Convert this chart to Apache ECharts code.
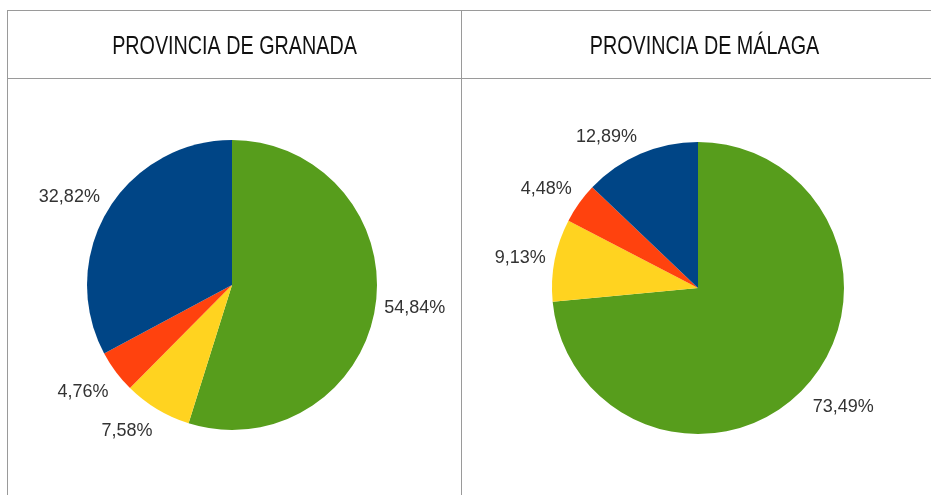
<!DOCTYPE html>
<html>
<head>
<meta charset="utf-8">
<script src="https://cdn.jsdelivr.net/npm/echarts@6/dist/echarts.min.js"></script>
<style>
  html, body { margin: 0; padding: 0; background: #fff; }
  #chart { width: 931px; height: 495px; }
</style>
</head>
<body>
<div id="chart"></div>
<script>
// categories in drawing order (clockwise from 12 o'clock)
const categories = ["A", "B", "C", "D"];
const colors = ["#579d1c", "#ffd320", "#ff420e", "#004586"];
const granada = [54.84, 7.58, 4.76, 32.82];
const malaga = [73.49, 9.13, 4.48, 12.89];
const titles = ["PROVINCIA DE GRANADA", "PROVINCIA DE MÁLAGA"];

const myChart = echarts.init(document.getElementById("chart"));

function toData(values) {
  return values.map((v, i) => ({ name: categories[i], value: v }));
}

// vertical cosine of a slice's middle angle (down is positive)
function midDown(values, idx) {
  const total = values.reduce((a, b) => a + b, 0);
  let before = 0;
  for (let i = 0; i < idx; i++) before += values[i];
  const a = ((before + values[idx] / 2) / total) * Math.PI * 2;
  return -Math.cos(a);
}

function pieSeries(values, center, r) {
  return {
    type: "pie",
    center: center,
    radius: r,
    startAngle: 90,
    clockwise: true,
    animation: false,
    avoidLabelOverlap: false,
    color: colors,
    label: {
      show: true,
      position: "outside",
      distanceToLabelLine: 0,
      formatter: (p) => p.value.toFixed(2).replace(".", ",") + "%",
      fontFamily: "Liberation Sans, Arial, sans-serif",
      fontSize: 18,
      color: "#333",
    },
    labelLine: { show: false, length: 9, length2: 0 },
    // labels above the pie sit on their anchor, labels below hang from it
    labelLayout: (p) => {
      const c = midDown(values, p.dataIndex);
      const k = Math.sign(c) * Math.max(0, Math.min(1, (Math.abs(c) - 0.2) / 0.3));
      return { dy: k * (c > 0 ? 14.5 : 8.5) };
    },
    itemStyle: { borderWidth: 0 },
    emphasis: { disabled: true },
    silent: true,
    data: toData(values),
  };
}

const lineStyle = { stroke: "#9a9a9a", lineWidth: 1 };
const titleFont = "25px 'Liberation Sans', Arial, sans-serif";

const option = {
  graphic: [
    { type: "line", shape: { x1: 7, y1: 10.5, x2: 931, y2: 10.5 }, style: lineStyle, silent: true },
    { type: "line", shape: { x1: 7, y1: 78.5, x2: 931, y2: 78.5 }, style: lineStyle, silent: true },
    { type: "line", shape: { x1: 7.5, y1: 10, x2: 7.5, y2: 495 }, style: lineStyle, silent: true },
    { type: "line", shape: { x1: 461.5, y1: 10, x2: 461.5, y2: 495 }, style: lineStyle, silent: true },
    {
      type: "text", x: 234.5, y: 47.5, scaleX: 0.79, silent: true,
      style: { text: titles[0], font: titleFont, fill: "#111", textAlign: "center", textVerticalAlign: "middle" },
    },
    {
      type: "text", x: 704.5, y: 47.5, scaleX: 0.79, silent: true,
      style: { text: titles[1], font: titleFont, fill: "#111", textAlign: "center", textVerticalAlign: "middle" },
    },
  ],
  series: [
    pieSeries(granada, [232, 285], 145),
    pieSeries(malaga, [698, 288], 146),
  ],
};

myChart.setOption(option);
</script>
</body>
</html>
